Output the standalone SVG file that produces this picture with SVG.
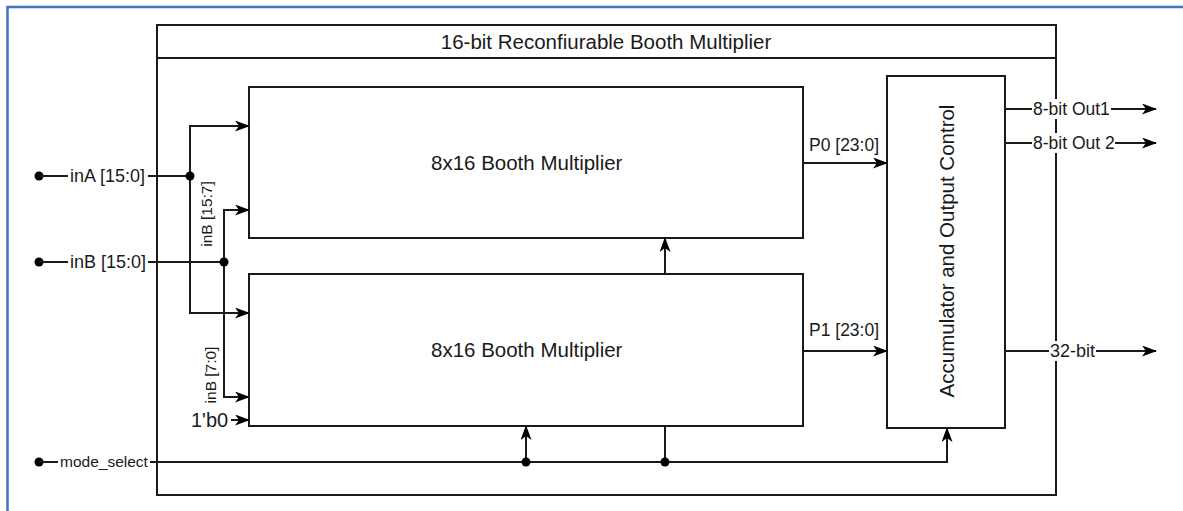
<svg xmlns="http://www.w3.org/2000/svg" width="1183" height="511" viewBox="0 0 1183 511">
  <style>
    .box { fill: #ffffff; stroke: #1a1a1a; stroke-width: 2; }
    .wire { fill: none; stroke: #1a1a1a; stroke-width: 2; }
    .arr { marker-end: url(#arrow); }
    .dot { fill: #000000; }
    text { font-family: "Liberation Sans", Arial, sans-serif; fill: #1a1a1a; }
    .big { font-size: 20.5px; }
    .pin { font-size: 18px; }
    .lbl { font-size: 17.5px; }
    .sm { font-size: 15.5px; }
    .bg { fill: #ffffff; }
  </style>
  <defs>
    <marker id="arrow" viewBox="0 0 15 11" refX="14" refY="5.5" markerWidth="15" markerHeight="11" markerUnits="userSpaceOnUse" orient="auto">
      <path d="M0,0 L15,5.5 L0,11 L4,5.5 z" fill="#000000"/>
    </marker>
  </defs>

  <rect x="0" y="0" width="1183" height="511" fill="#ffffff"/>
  <!-- page frame -->
  <path d="M7.5,511 V7 H1183" fill="none" stroke="#4472c4" stroke-width="2.5"/>

  <!-- enclosing block -->
  <g id="top-block">
    <rect class="box" x="157" y="25" width="899" height="470"/>
    <line class="wire" x1="157" y1="58" x2="1056" y2="58"/>
    <text class="big" x="606" y="49" text-anchor="middle">16-bit Reconfiurable Booth Multiplier</text>
  </g>

  <g id="mult-hi">
    <rect class="box" x="249" y="87" width="554" height="151"/>
    <text class="big" x="431" y="170">8x16 Booth Multiplier</text>
  </g>

  <g id="mult-lo">
    <rect class="box" x="249" y="274" width="554" height="152"/>
    <text class="big" x="431" y="357">8x16 Booth Multiplier</text>
  </g>

  <g id="acc">
    <rect class="box" x="887" y="76" width="118" height="352"/>
    <text class="big" transform="translate(954,251) rotate(-90)" text-anchor="middle">Accumulator and Output Control</text>
  </g>

  <g id="connectors">
    <!-- inA -->
    <circle class="dot" cx="39" cy="176" r="4.5"/>
    <line class="wire" x1="39" y1="176" x2="68" y2="176"/>
    <text class="pin" x="70" y="182">inA [15:0]</text>
    <line class="wire" x1="148" y1="176" x2="190" y2="176"/>
    <path class="wire arr" d="M190,176 V126 H249"/>
    <path class="wire arr" d="M190,176 V313 H249"/>
    <circle class="dot" cx="190" cy="176" r="4.5"/>

    <!-- inB -->
    <circle class="dot" cx="39" cy="262" r="4.5"/>
    <line class="wire" x1="39" y1="262" x2="68" y2="262"/>
    <text class="pin" x="70" y="268">inB [15:0]</text>
    <line class="wire" x1="148" y1="262" x2="224" y2="262"/>
    <path class="wire arr" d="M224,262 V210 H249"/>
    <path class="wire arr" d="M224,262 V397 H249"/>
    <circle class="dot" cx="224" cy="262" r="4.5"/>
    <text class="sm" transform="translate(212,214) rotate(-90)" text-anchor="middle">inB [15:7]</text>
    <text class="sm" transform="translate(216,375) rotate(-90)" text-anchor="middle">inB [7:0]</text>

    <!-- constant carry-in -->
    <text x="191" y="427" style="font-size:20px">1'b0</text>
    <line class="wire arr" x1="231" y1="420" x2="249" y2="420"/>

    <!-- mode_select -->
    <circle class="dot" cx="39" cy="462" r="4.5"/>
    <line class="wire" x1="39" y1="462" x2="58" y2="462"/>
    <text class="sm" x="60" y="467">mode_select</text>
    <path class="wire arr" d="M150,462 H947 V428"/>
    <line class="wire arr" x1="526" y1="462" x2="526" y2="426"/>
    <line class="wire" x1="665" y1="462" x2="665" y2="426"/>
    <line class="wire arr" x1="665" y1="274" x2="665" y2="238"/>
    <circle class="dot" cx="526" cy="462" r="4.5"/>
    <circle class="dot" cx="665" cy="462" r="4.5"/>

    <!-- partial products -->
    <line class="wire arr" x1="803" y1="163" x2="887" y2="163"/>
    <text class="lbl" x="809" y="151">P0 [23:0]</text>
    <line class="wire arr" x1="803" y1="351" x2="887" y2="351"/>
    <text class="lbl" x="809" y="336">P1 [23:0]</text>

    <!-- outputs -->
    <line class="wire" x1="1005" y1="109" x2="1033" y2="109"/>
    <rect class="bg" x="1032" y="99" width="80" height="20"/>
    <text class="lbl" x="1033" y="115">8-bit Out1</text>
    <line class="wire arr" x1="1111" y1="109" x2="1156" y2="109"/>

    <line class="wire" x1="1005" y1="143" x2="1033" y2="143"/>
    <rect class="bg" x="1032" y="133" width="84" height="20"/>
    <text class="lbl" x="1033" y="149">8-bit Out 2</text>
    <line class="wire arr" x1="1115" y1="143" x2="1156" y2="143"/>

    <line class="wire" x1="1005" y1="351" x2="1050" y2="351"/>
    <rect class="bg" x="1049" y="341" width="48" height="20"/>
    <text class="pin" x="1050" y="357">32-bit</text>
    <line class="wire arr" x1="1096" y1="351" x2="1156" y2="351"/>
  </g>
</svg>
